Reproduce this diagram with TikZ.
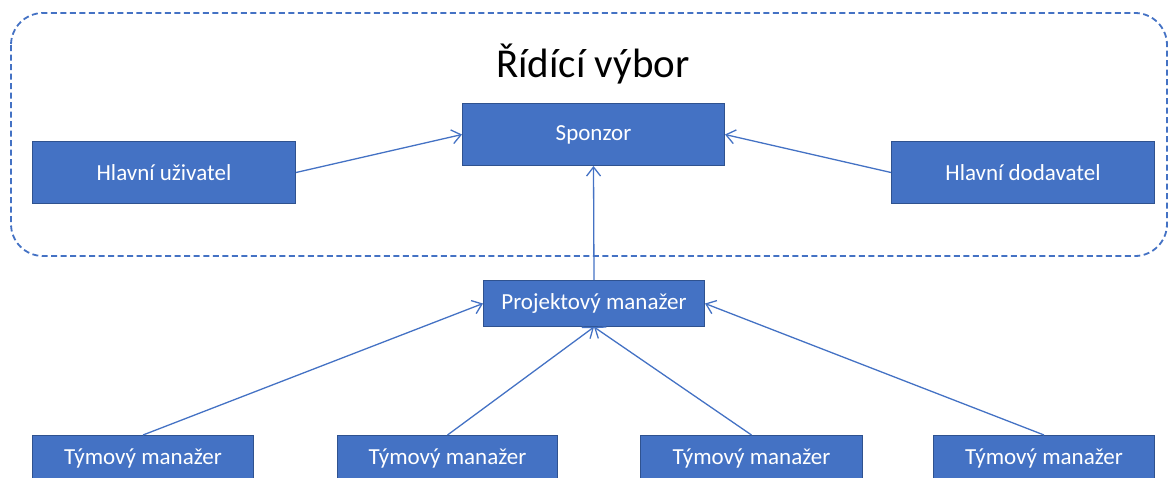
\documentclass[tikz,border=0pt]{standalone}
\usepackage{fontspec}
\setmainfont{Carlito}
\usetikzlibrary{arrows.meta}
\definecolor{acc}{HTML}{4472C4}
\definecolor{accd}{HTML}{2F528F}
\tikzset{
  box/.style={draw=accd, line width=1pt, fill=acc, text=white, font=\fontsize{23}{26}\selectfont, inner sep=0pt, anchor=north west},
  conn/.style={draw=acc, line width=1.3pt, -{Straight Barb[length=9pt,width=14pt,line width=1.3pt]}},
}
\begin{document}
\begin{tikzpicture}[x=1pt,y=-1pt]
\useasboundingbox (0,0) rectangle (1170,477);
\clip (0,0) rectangle (1170,477);
\draw[acc, line width=1.8pt, dash pattern=on 6pt off 3.5pt, rounded corners=32pt] (11,13) rectangle (1167,256);
\node[font=\fontsize{41}{46}\selectfont] (title) at (593,64) {Řídící výbor};
\node[box, minimum width=263pt, minimum height=62pt] (hu) at (32,141) {Hlavní uživatel};
\node[box, minimum width=262pt, minimum height=62pt] (sp) at (462,103) {Sponzor};
\node[box, minimum width=263pt, minimum height=62pt] (hd) at (891,141) {Hlavní dodavatel};
\node[box, minimum width=221pt, minimum height=46pt] (pm) at (483,280) {Projektový manažer};
\node[box, minimum width=221pt, minimum height=46pt] (t1) at (32,435) {Týmový manažer};
\node[box, minimum width=220pt, minimum height=46pt] (t2) at (337,435) {Týmový manažer};
\node[box, minimum width=222pt, minimum height=46pt] (t3) at (640,435) {Týmový manažer};
\node[box, minimum width=221pt, minimum height=46pt] (t4) at (933,435) {Týmový manažer};
\draw[conn] (hu.east) -- (sp.west);
\draw[conn] (hd.west) -- (sp.east);
\draw[conn] (pm.north) -- (sp.south);
\draw[conn] (t1.north) -- (pm.west);
\draw[conn] (t2.north) -- (pm.south);
\draw[conn] (t3.north) -- (pm.south);
\draw[conn] (t4.north) -- (pm.east);
\end{tikzpicture}
\end{document}
